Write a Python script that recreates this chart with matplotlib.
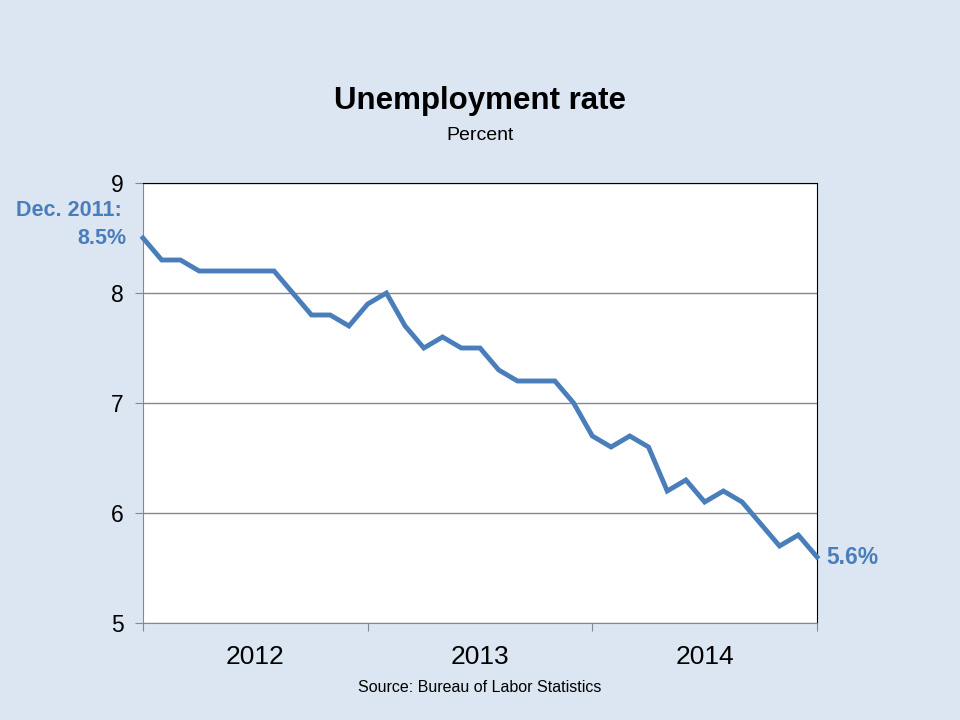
import numpy as np
import matplotlib
matplotlib.use("Agg")
import matplotlib.pyplot as plt

plt.rcParams['font.family'] = ['Liberation Sans', 'DejaVu Sans']

# monthly unemployment rate, Dec 2011 - Dec 2014
rate = [8.5, 8.3, 8.3, 8.2, 8.2, 8.2, 8.2, 8.2, 8.0, 7.8, 7.8, 7.7, 7.9,
        8.0, 7.7, 7.5, 7.6, 7.5, 7.5, 7.3, 7.2, 7.2, 7.2, 7.0, 6.7,
        6.6, 6.7, 6.6, 6.2, 6.3, 6.1, 6.2, 6.1, 5.9, 5.7, 5.8, 5.6]
years = ["2012", "2013", "2014"]
yticks = [5, 6, 7, 8, 9]

bg = "#DCE6F2"
blue = "#4A7EBB"

x = np.arange(len(rate))

fig = plt.figure(figsize=(9.6, 7.2), dpi=100, facecolor=bg)
ax = fig.add_axes([143/960, 1-623/720, (817-143)/960, (623-183)/720])
ax.set_facecolor("white")

ax.plot(x, rate, color=blue, lw=3.5, solid_joinstyle="miter", clip_on=False, zorder=3)

ax.set_xlim(0, len(rate) - 1)
ax.set_ylim(5, 9)
ax.set_yticks(yticks)
ax.set_yticklabels([str(v) for v in yticks], fontsize=16.5)
ax.yaxis.grid(True, color="#888888", lw=1)
ax.set_axisbelow(True)

ax.set_xticks([0, 12, 24, 36])
ax.set_xticklabels([])
ax.set_xticks([6, 18, 30], minor=True)
ax.set_xticklabels(years, minor=True, fontsize=19)
ax.tick_params(axis="x", which="major", length=6, color="#888888", direction="out")
ax.tick_params(axis="x", which="minor", length=0, pad=16)
ax.tick_params(axis="y", length=6, color="#888888", direction="out", pad=8)

ax.spines["left"].set_color("#888888")
ax.spines["bottom"].set_color("#888888")
ax.spines["top"].set_color("black")
ax.spines["right"].set_color("black")

ax.annotate("Dec. 2011:", xy=(0, rate[0]), xytext=(-15, 20),
            textcoords="offset points", ha="right", va="center",
            color=blue, fontsize=15.5, fontweight="bold")
ax.annotate("8.5%", xy=(0, rate[0]), xytext=(-12, 0),
            textcoords="offset points", ha="right", va="center",
            color=blue, fontsize=15.5, fontweight="bold")
ax.annotate("5.6%", xy=(x[-1], rate[-1]), xytext=(7, 0),
            textcoords="offset points", ha="left", va="center",
            color=blue, fontsize=16.5, fontweight="bold")

fig.text(0.5, 1-101/720, "Unemployment rate", ha="center", va="center",
         fontsize=22.5, fontweight="bold")
fig.text(0.5, 1-135/720, "Percent", ha="center", va="center", fontsize=14)
fig.text(480/960, 1-688/720, "Source: Bureau of Labor Statistics", ha="center",
         va="center", fontsize=11.5)

fig.savefig("out.png", dpi=100, facecolor=bg)
